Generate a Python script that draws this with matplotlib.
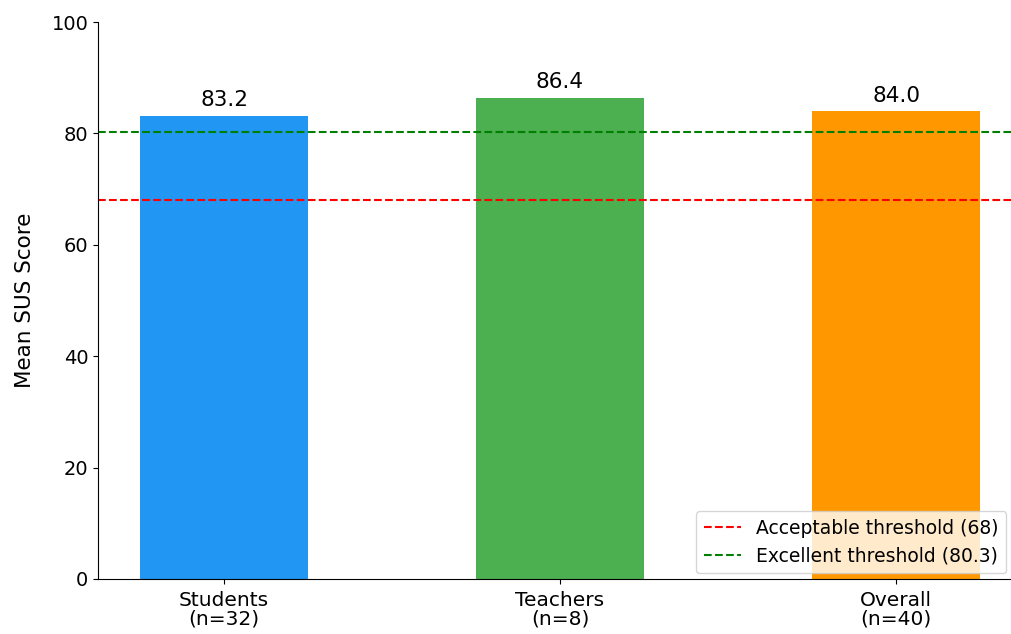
import matplotlib
matplotlib.use("Agg")
from matplotlib import pyplot as plt

groups = ["Students\n(n=32)", "Teachers\n(n=8)", "Overall\n(n=40)"]
mean_sus = [83.2, 86.4, 84.0]
bar_colors = ["#2196F3", "#4CAF50", "#FF9800"]
acceptable = 68
excellent = 80.3

fig = plt.figure(figsize=(10.12, 6.34), dpi=100)
ax = fig.add_axes([98 / 1012, 55 / 634, 914 / 1012, 557 / 634])

x = range(len(groups))
bars = ax.bar(x, mean_sus, width=0.5, color=bar_colors)
for bar, val in zip(bars, mean_sus):
    ax.text(bar.get_x() + bar.get_width() / 2, val + 1.0, f"{val:.1f}",
            ha="center", va="bottom", fontsize=15.5)

ax.axhline(acceptable, color="red", linestyle="--", linewidth=1.5, label=f"Acceptable threshold ({acceptable})")
ax.axhline(excellent, color="green", linestyle="--", linewidth=1.5, label=f"Excellent threshold ({excellent})")

ax.set_xticks(list(x))
ax.set_xticklabels(groups, fontsize=14.5, linespacing=1.0)
ax.tick_params(axis="x", pad=5)
ax.tick_params(axis="y", labelsize=14)
ax.set_ylabel("Mean SUS Score", fontsize=15.5, labelpad=12)
ax.set_ylim(0, 100)
ax.set_xlim(-0.375, 2.345)
ax.spines["top"].set_visible(False)
ax.spines["right"].set_visible(False)
ax.legend(loc="lower right", fontsize=13.5, borderaxespad=0.3)

fig.savefig("out.png", dpi=100)
